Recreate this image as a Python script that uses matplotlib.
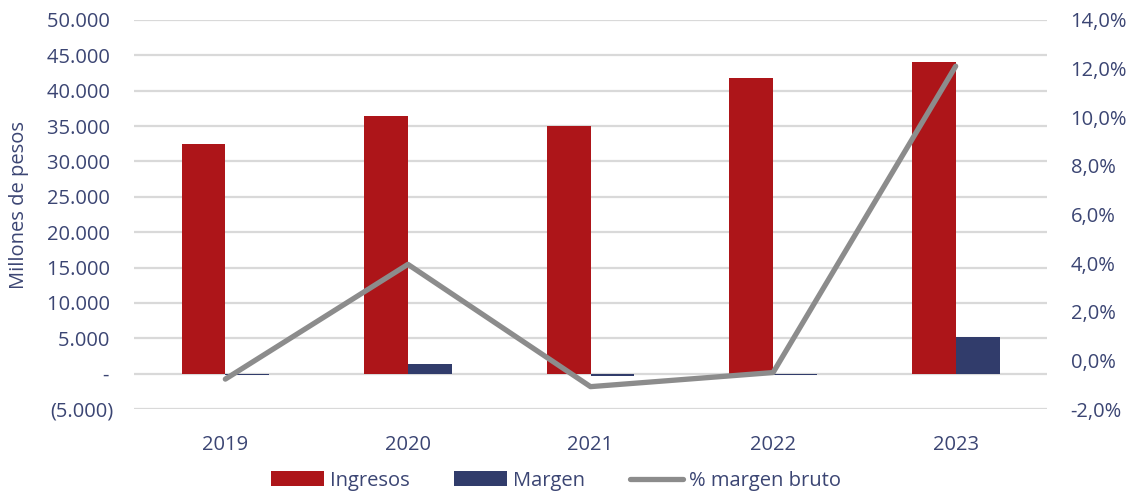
import matplotlib
matplotlib.use("Agg")
import matplotlib.pyplot as plt
from matplotlib.ticker import FuncFormatter, MultipleLocator
import numpy as np

years = ["2019", "2020", "2021", "2022", "2023"]
ingresos = [32530, 36490, 35080, 41730, 44130]
margen = [-250, 1420, -380, -200, 5230]
pct_margen = [-0.77, 3.95, -1.08, -0.5, 12.1]

plt.rcParams['font.family'] = ['Open Sans', 'DejaVu Sans']
TXT = '#3b4573'
RED = '#ad1519'
NAVY = '#313c6b'
GREY = '#8c8c8c'
FS = 14.5

fig = plt.figure(figsize=(11.32, 4.95), dpi=100)
ax = fig.add_axes([0.1184, 0.1737, 0.9249 - 0.1184, 0.9596 - 0.1737])
ax2 = ax.twinx()

x = np.arange(len(years))
w = 0.24
b1 = ax.bar(x - w / 2, ingresos, width=w, color=RED, label='Ingresos', zorder=2)
b2 = ax.bar(x + w / 2, margen, width=w, color=NAVY, label='Margen', zorder=2)
l1, = ax2.plot(x, pct_margen, color=GREY, lw=3.8, label='% margen bruto',
               solid_capstyle='round', zorder=3)

ax.set_xlim(-0.5, len(years) - 0.5)
ax.set_ylim(-5000, 50000)
ax.yaxis.set_major_locator(MultipleLocator(5000))
ax2.set_ylim(-2, 14)
ax2.yaxis.set_major_locator(MultipleLocator(2))

def left_fmt(v, pos):
    if abs(v) < 1e-9:
        return '-\u2009'
    s = f"{abs(v):,.0f}".replace(',', '.')
    return f"({s})" if v < 0 else s + '\u2009'

def right_fmt(v, pos):
    return f"{v:.1f}%".replace('.', ',')

ax.yaxis.set_major_formatter(FuncFormatter(left_fmt))
ax2.yaxis.set_major_formatter(FuncFormatter(right_fmt))

ax.set_xticks(x)
ax.set_xticklabels(years)
ax.grid(axis='y', color='#d9d9d9', lw=1.6, zorder=0)
ax.set_axisbelow(True)

for a in (ax, ax2):
    for s in a.spines.values():
        s.set_visible(False)
    a.tick_params(length=0, labelsize=FS, colors=TXT)
ax.tick_params(axis='y', pad=15)
ax.tick_params(axis='x', pad=19)
ax2.tick_params(axis='y', pad=17)

ax.set_ylabel('Millones de pesos', fontsize=FS, color=TXT)
ax.yaxis.set_label_coords(-0.115, 0.524)

fig.legend(handles=[b1, b2, l1], labels=['Ingresos', 'Margen', '% margen bruto'],
           loc='lower center', bbox_to_anchor=(0.491, -0.028), ncol=3, frameon=False,
           fontsize=FS, labelcolor=TXT, handlelength=2.65, handleheight=0.75,
           columnspacing=2.2, handletextpad=0.3)

fig.savefig('out.png', dpi=100)
